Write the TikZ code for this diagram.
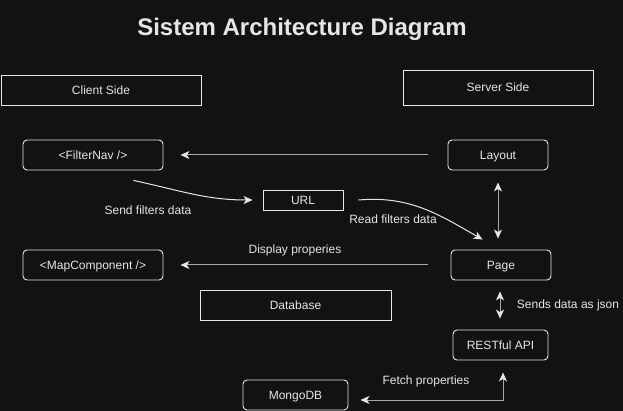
\documentclass[tikz,border=0pt]{standalone}
\usepackage{fontspec}
\setmainfont{Liberation Sans}
\usetikzlibrary{arrows.meta,calc}
\definecolor{bg}{HTML}{121212}
\definecolor{fg}{HTML}{E6E6E6}
\definecolor{ln}{HTML}{A8A8A8}

\begin{document}
\begin{tikzpicture}[
x=1pt, y=-1pt,
    N/.style = {rectangle, rounded corners=4pt, draw=fg, line width=0.9pt,
                text=fg, font=\fontsize{12}{14}\selectfont,
                text height=8.6pt, text depth=0pt,
                minimum width=#1, minimum height=30pt, inner sep=0pt},% rounded boxes
    N/.default=100pt,
    R/.style = {rectangle, draw=fg, line width=0.9pt,
                text=fg, font=\fontsize{12}{14}\selectfont,
                text height=8.6pt, text depth=0pt,
                minimum width=#1, minimum height=30pt, inner sep=0pt},% plain boxes
    L/.style = {text=fg, font=\fontsize{12}{14}\selectfont,
                text height=8.6pt, text depth=0pt, inner sep=0pt},
    A/.style = {draw=ln, line width=1pt,
                arrows={-Stealth[length=9pt,width=8pt,inset=2.5pt,fill=fg,color=fg]}},
    AA/.style = {draw=ln, line width=1pt,
                arrows={Stealth[length=9pt,width=8pt,inset=2.5pt,fill=fg,color=fg]-Stealth[length=9pt,width=8pt,inset=2.5pt,fill=fg,color=fg]}},
                        ]
\fill[bg] (0,0) rectangle (623,411);
\useasboundingbox (0,0) rectangle (623,411);

\node[text=fg, font=\bfseries\fontsize{24}{28}\selectfont] (title) at (302,29) {Sistem Architecture Diagram};

% sides
\node[R=200pt] (client) at (101,90) {Client Side};
\node[R=190pt, minimum height=35pt] (server) at (498,87.5) {Server Side};

% components
\node[N=140pt] (filternav) at (93,155) {<FilterNav />};
\node[N] (layout) at (498,155) {Layout};
\node[R=80pt, minimum height=20pt] (url) at (303,200) {URL};
\node[N=140pt] (mapcomp) at (93,265) {<MapComponent />};
\node[N] (page) at (501,265) {Page};
\node[R=191pt] (database) at (295.5,305) {Database};
\node[N=95pt] (rest) at (500.5,345) {RESTful API};
\node[N=105pt] (mongo) at (295.5,395) {MongoDB};

% connectors
\draw[A] ($(layout.west)+(-20,0)$) -- ($(filternav.east)+(17,0)$);
\draw[A] ($(page.west)+(-23,0)$) -- ($(mapcomp.east)+(17,0)$);
\draw[A, draw=fg] ($(filternav.south east)+(-30,10)$) to[out=-12, in=180] ($(url.west)+(-10,0)$);
\draw[A, draw=fg] ($(url.east)+(15,0)$) to[out=5, in=150] ($(page.north west)+(32,-10)$);
\draw[AA] ($(layout.south)+(0,12)$) -- ($(page.north)+(-3,-11)$);
\draw[AA] ($(page.south)+(-1,11)$) -- ($(rest.north)+(-0.5,-11)$);
\draw[AA] ($(rest.south)+(2.5,12)$) |- ($(mongo.east)+(12,5)$);

% labels
\node[L] (sendlbl) at (148,210) {Send filters data};
\node[L] (readlbl) at (393,219) {Read filters data};
\node[L] (displbl) at (295,249) {Display properies};
\node[L] (jsonlbl) at (568,304) {Sends data as json};
\node[L] (fetchlbl) at (426,380) {Fetch properties};

\end{tikzpicture}
\end{document}
